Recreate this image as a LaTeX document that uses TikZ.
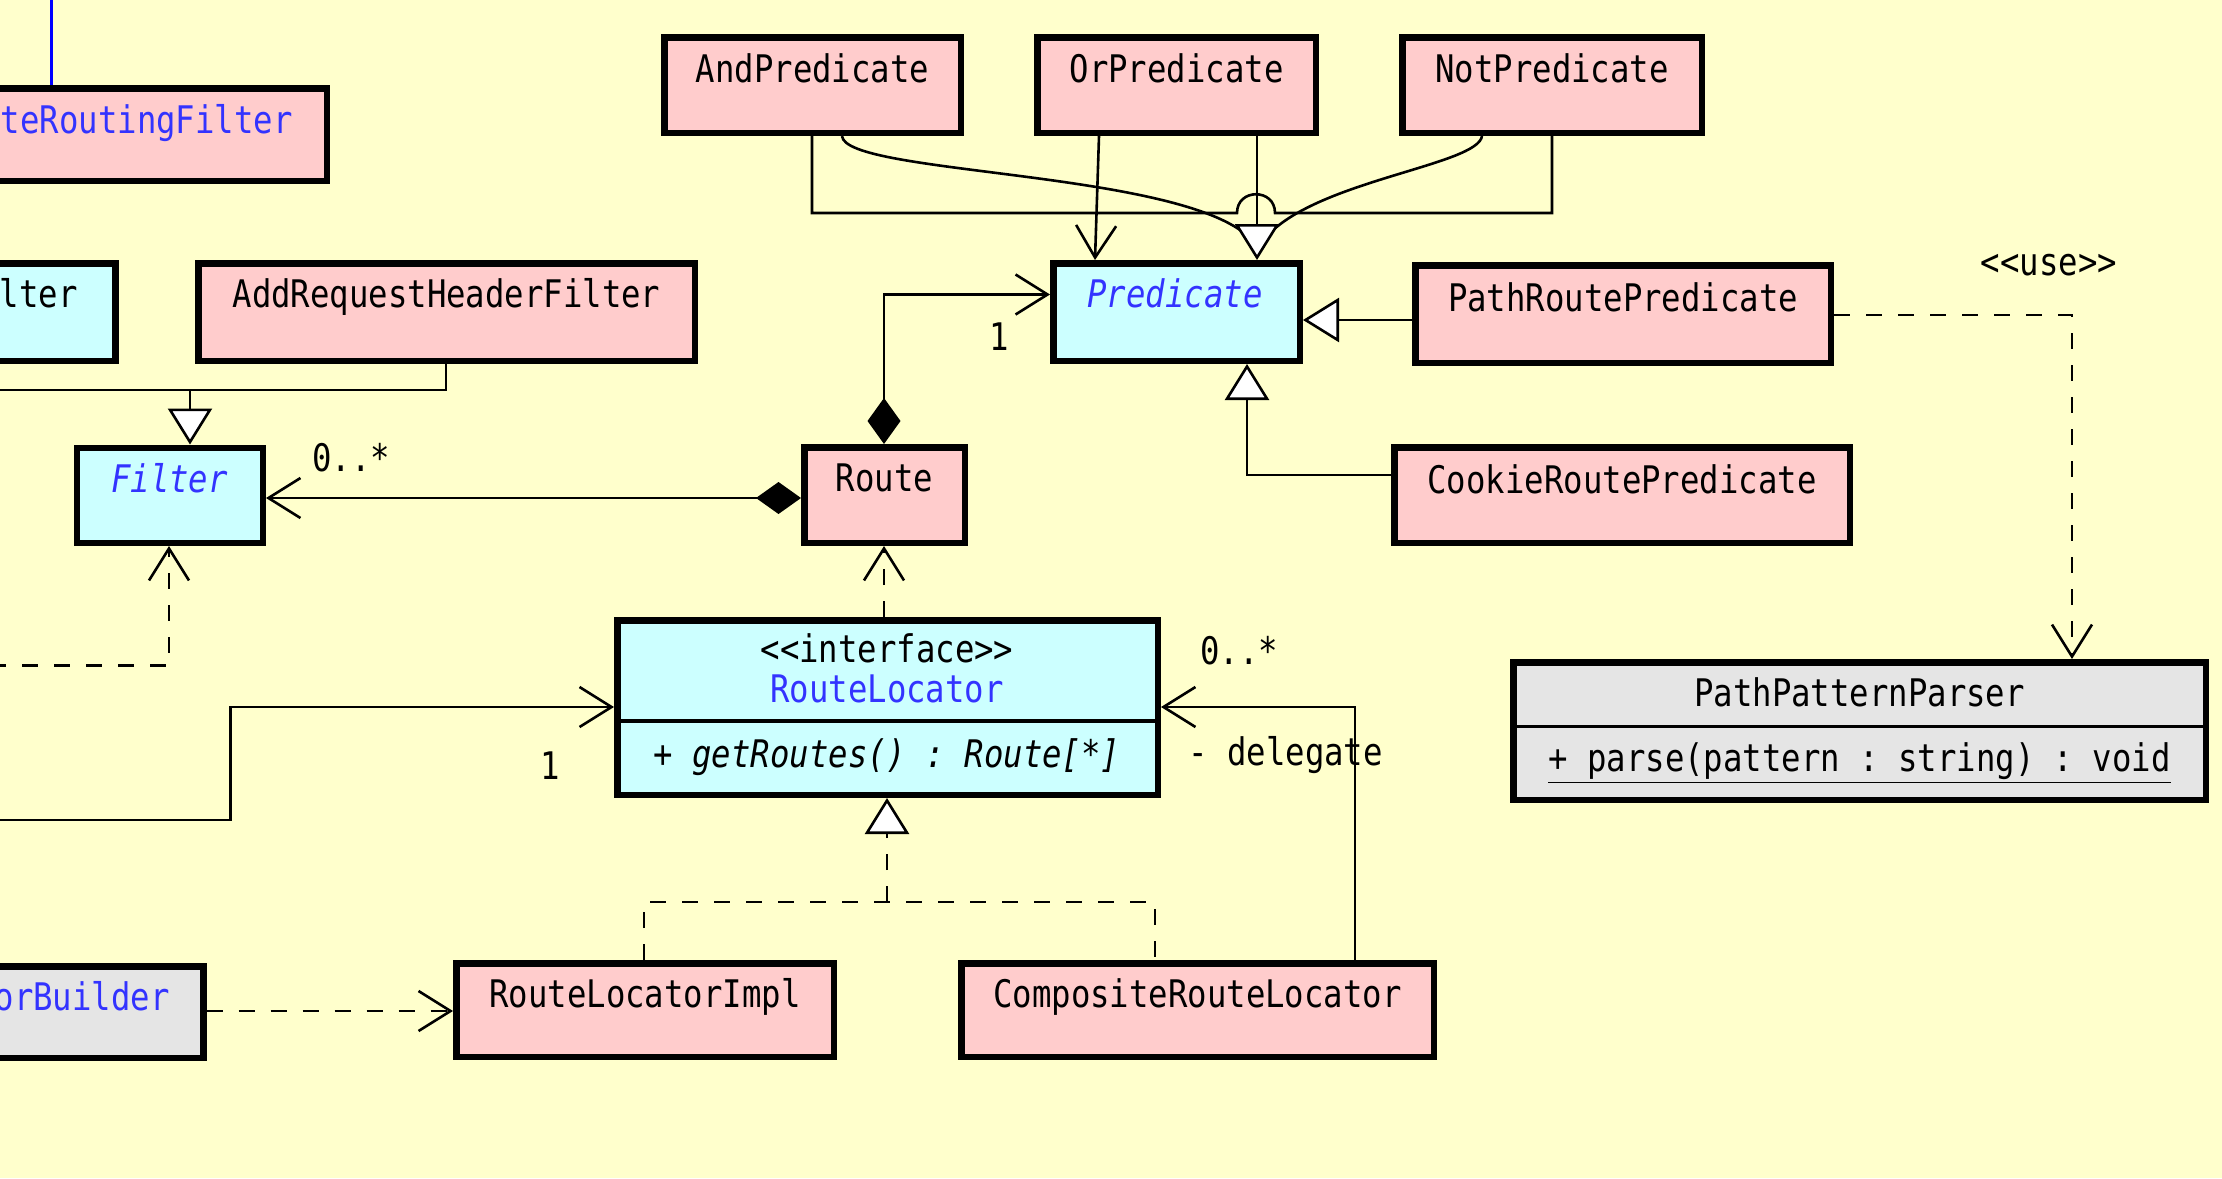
\documentclass[tikz,border=0pt]{standalone}
\usepackage{fontspec}
\setmonofont{DejaVu Sans Mono}[FakeStretch=0.85]
\usetikzlibrary{arrows.meta}
\definecolor{bgc}{HTML}{FFFFCC}
\definecolor{pinkc}{HTML}{FFCCCC}
\definecolor{cyanc}{HTML}{CCFFFF}
\definecolor{grayc}{HTML}{E5E5E5}
\definecolor{bluet}{HTML}{3333FF}
\newcommand\umlbox[6]{\node[box, fill=#6, minimum width={(#4-(#2)-6.5)*0.5pt}, minimum height={(#5-(#3)-6.5)*0.5pt}] (#1) at ({(#2+#4)/2},{(#3+#5)/2}) {};}
\begin{document}
\begin{tikzpicture}[x=0.5pt,y=-0.5pt,
  box/.style={draw=black, line width=3.25pt, inner sep=0pt, outer sep=auto},
  txt/.style={inner sep=0pt, font=\fontsize{19}{22}\selectfont\ttfamily, anchor=base},
  conn/.style={line width=1.3pt, draw=black},
  dsh/.style={conn, dash pattern=on 8pt off 8pt},
  openarr/.style={-{Straight Barb[length=16pt,width=20pt]}},
  gentri/.style={-{Triangle[length=18pt,width=22pt,fill=white]}}
]
\useasboundingbox (0,0) rectangle (2222,1178);
\clip (0,0) rectangle (2222,1178);
\fill[bgc] (0,0) rectangle (2222,1178);

% boxes
\umlbox{rf}{-40}{85}{330}{184}{pinkc}
\umlbox{lf}{-40}{260}{118.5}{364}{cyanc}
\umlbox{arhf}{195}{260}{698}{364}{pinkc}
\umlbox{filter}{73.5}{444.5}{266}{546}{cyanc}
\umlbox{andp}{661}{34}{964}{136}{pinkc}
\umlbox{orp}{1034}{34}{1319}{136}{pinkc}
\umlbox{notp}{1399}{34}{1705}{136}{pinkc}
\umlbox{pred}{1050}{260}{1303}{364}{cyanc}
\umlbox{prp}{1412}{262}{1834}{366}{pinkc}
\umlbox{crp}{1391}{444}{1853}{546}{pinkc}
\umlbox{route}{801}{444}{968}{546}{pinkc}
\umlbox{rl}{614}{617}{1161}{798}{cyanc}
\umlbox{ppp}{1510}{659}{2209}{803}{grayc}
\umlbox{ob}{-40}{963}{206.5}{1061}{grayc}
\umlbox{rli}{453}{960}{837}{1060}{pinkc}
\umlbox{crl}{958}{960}{1437}{1060}{pinkc}

% compartment separators
\draw[line width=2pt] (rl.west |- 0,721) -- (rl.east |- 0,721);
\draw[line width=1.5pt] (ppp.west |- 0,726) -- (ppp.east |- 0,726);

% free ends
\coordinate (topb) at (51,-5);
\coordinate (lj) at (-10,390);
\coordinate (fl) at (-10,665.6);
\coordinate (ll) at (-10,820);
\coordinate (ca) at (1250,238);
\coordinate (cn) at (1268,235);

% blue line
\draw[line width=1.5pt, blue] (rf.north -| 51,0) -- (topb);

% generalization to Filter
\draw[conn] (arhf.south -| 446,0) -- (446,390) -- (lj);
\draw[conn, gentri] (190,390) -- (filter.north -| 190,0);

% dashed to Filter from left
\draw[dsh, openarr] (fl) -- (169,665.6) -- (filter.south -| 169,0);

% Route -> Filter composition
\draw[conn, {Diamond[length=22.5pt,width=16pt]}-{Straight Barb[length=16pt,width=20pt]}] (route.west |- 0,498) -- (filter.east |- 0,498);
\node[txt, anchor=base west] (l0f) at (312,471) {0..*};

% Route -> Predicate composition
\draw[conn, {Diamond[length=23pt,width=16.5pt]}-{Straight Barb[length=16pt,width=20pt]}] (route.north -| 884,0) -- (884,294.5) -- (pred.west |- 0,294.5);
\node[txt] (l1p) at (999,350) {1};

% And / Not join line with hop
\draw[conn] (andp.south -| 812,0) -- (812,213) -- (1237,213) .. controls (1237,188) and (1275,188) .. (1275,213) -- (1552,213) -- (notp.south -| 1552,0);

% curves to Predicate
\draw[conn] (andp.south -| 842,0) .. controls (845,175) and (1180,170) .. (ca);
\draw[conn] (notp.south -| 1482,0) .. controls (1478,165) and (1320,180) .. (cn);

% OrPredicate association and generalization
\draw[conn, openarr] (orp.south -| 1099,0) -- (pred.north -| 1095,0);
\draw[conn, gentri] (orp.south -| 1257,0) -- (pred.north -| 1257,0);

% PathRoutePredicate, CookieRoutePredicate generalization
\draw[conn, gentri] (prp.west |- 0,320) -- (pred.east |- 0,320);
\draw[conn, gentri] (crp.west |- 0,475) -- (1247,475) -- (pred.south -| 1247,0);

% use dependency
\draw[dsh, openarr] (prp.east |- 0,315) -- (2072,315) -- (ppp.north -| 2072,0);
\node[txt] (luse) at (2049,275) {<<use>>};

% RouteLocator -> Route
\draw[dsh, openarr] (rl.north -| 884,0) -- (route.south -| 884,0);

% left association to RouteLocator
\draw[conn, openarr] (ll) -- (230.5,820) -- (230.5,707) -- (rl.west |- 0,707);
\node[txt] (l1r) at (550,779) {1};

% delegate
\draw[conn, openarr] (crl.north -| 1355,0) -- (1355,707) -- (rl.east |- 0,707);
\node[txt, anchor=base west] (l0r) at (1200,664) {0..*};
\node[txt, anchor=base west] (ldel) at (1188,765) {- delegate};

% realization
\draw[dsh, gentri] (887,902) -- (rl.south -| 887,0);
\draw[dsh] (rli.north -| 644,0) -- (644,902) -- (1155,902) -- (crl.north -| 1155,0);

% builder dependency
\draw[dsh, openarr] (ob.east |- 0,1011) -- (rli.west |- 0,1011);

% texts
\node[txt, anchor=base east, text=bluet] (trf) at (293,133) {teRoutingFilter};
\node[txt, anchor=base east] (tlf) at (78,307) {lter};
\node[txt] (tarhf) at (446.5,307) {AddRequestHeaderFilter};
\node[txt, text=bluet, font=\fontsize{19}{22}\selectfont\ttfamily\itshape] (tfilter) at (169.5,492) {Filter};
\node[txt] (tandp) at (812.5,82) {AndPredicate};
\node[txt] (torp) at (1176.5,82) {OrPredicate};
\node[txt] (tnotp) at (1552,82) {NotPredicate};
\node[txt, text=bluet, font=\fontsize{19}{22}\selectfont\ttfamily\itshape] (tpred) at (1175,307) {Predicate};
\node[txt] (tprp) at (1623,311) {PathRoutePredicate};
\node[txt] (tcrp) at (1622,493) {CookieRoutePredicate};
\node[txt] (troute) at (884.5,491) {Route};
\node[txt] (trl1) at (887,662) {<<interface>>};
\node[txt, text=bluet] (trl2) at (887,702) {RouteLocator};
\node[txt, font=\fontsize{19}{22}\selectfont\ttfamily\itshape] (trl3) at (887,767) {+ getRoutes() : Route[*]};
\node[txt] (tppp1) at (1859.5,706) {PathPatternParser};
\node[txt] (tppp2) at (1859.5,771) {\underline{+ parse(pattern : string) : void}};
\node[txt, anchor=base east, text=bluet] (tob) at (170,1010) {orBuilder};
\node[txt] (trli) at (645,1007) {RouteLocatorImpl};
\node[txt] (tcrl) at (1197.5,1007) {CompositeRouteLocator};
\end{tikzpicture}
\end{document}
